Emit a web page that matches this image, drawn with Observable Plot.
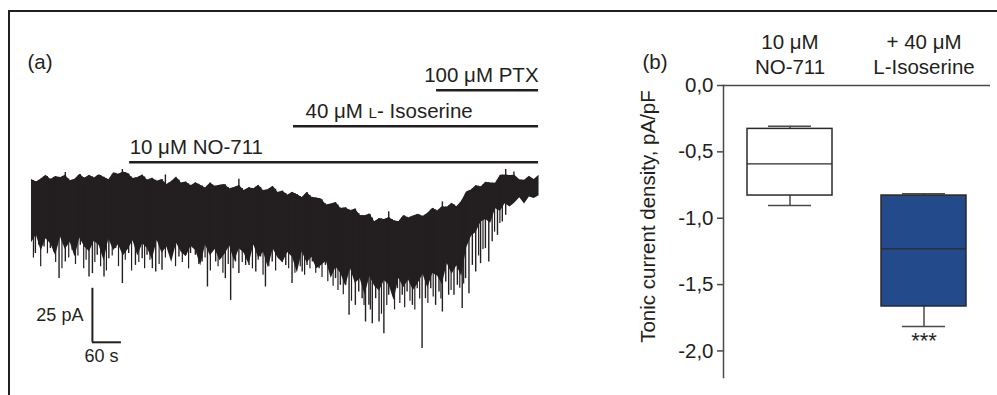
<!DOCTYPE html>
<html><head><meta charset="utf-8">
<script src="https://cdn.jsdelivr.net/npm/d3@7"></script>
<script src="https://cdn.jsdelivr.net/npm/@observablehq/plot@0.6"></script>
<style>
html,body{margin:0;padding:0;background:#fff;}
#fig{position:relative;width:997px;height:395px;overflow:hidden;font-family:"Liberation Sans",Arial,Helvetica,sans-serif;color:#231f20;}
#frame{position:absolute;left:8px;top:10px;right:-20px;bottom:-20px;border-top:2.5px solid #231f20;border-left:2.5px solid #231f20;}
#pa{position:absolute;left:0;top:0;}
#pb{position:absolute;left:560px;top:0;}
svg{overflow:visible;}
</style></head><body>
<div id="fig"><div id="frame"></div><div id="pa"></div><div id="pb"></div></div>
<script>
// ---------- Panel (a): whole-cell trace (time in s, current in pA) ----------
const traceTime = [0, 10, 20, 30, 40, 50, 60, 70, 80, 90, 100, 110, 120, 130, 140, 150, 160, 170, 180, 190,
  200, 210, 220, 230, 240, 250, 260, 270, 280, 290, 300, 310, 320, 330, 340, 350, 360, 370, 380, 390,
  400, 410, 420, 430, 440, 450, 460, 470, 480, 490, 500, 510, 520, 530, 540, 550, 560, 570, 580, 590,
  600, 610, 620, 630, 640, 650, 660, 670, 680, 690, 700, 710, 720, 730, 740, 750, 760, 770, 780, 790,
  800, 810, 820, 830, 840, 850, 860, 870, 880, 890, 900, 910, 920, 930, 940, 950, 960, 970, 980, 990,
  1000, 1010, 1020, 1030, 1040, 1050];
// upper (outward) edge of the noisy holding current
const traceUpper = [0.4, -0.8, 0.6, 2.3, 0.4, 1.8, 1.2, 2.3, -0.2, 0.5, 2.8, 0.9, 2.3, 1.1, 2.6, 1.4, 0.2, 3.5, 2.8, 3.8,
  3.2, 0.8, 1.3, 2.5, 0, 0.9, -0.4, 0.4, -1.9, -0.5, 1.5, -1.3, -0.8, -2.5, -1.1, -2.3, -3.6, -1.2, -2.8, -2.3,
  -1.9, -3.9, -3.3, -2.4, -4.7, -3.4, -3.9, -2.3, -4.8, -4.3, -2.8, -5.6, -5.0, -6.9, -5.5, -6.7, -8.0, -5.7, -7.9, -8.2,
  -8.7, -11.4, -11.0, -10.3, -13.1, -12.7, -14.1, -13.3, -16.3, -16.4, -15.6, -19.2, -17.7, -18.2, -17.2, -18.7, -19.2, -16.3, -17.4, -16.5,
  -15.7, -16.8, -15.2, -12.9, -14.2, -12.2, -12.5, -10.6, -12.3, -9.7, -5.4, -4.5, -2.4, -3.1, -0.9, -1.3, -1.4, 2.3, 2.5, 2.2,
  2.3, 0.3, 0, 1.9, 0.4, 2.3];
// lower (inward) edge of the dense noise band
const traceLower = [-28.9, -25.3, -32.7, -27.1, -29.5, -34.9, -26.2, -32.0, -28.7, -35.5, -26.7, -30.9, -33.1, -28.2, -30.2, -37.2, -27.2, -32.5, -29.8, -35.0,
  -32.0, -28.0, -35.1, -29.4, -31.6, -36.8, -27.8, -33.8, -30.9, -38.0, -29.2, -33.3, -35.4, -30.5, -32.6, -39.7, -29.9, -34.9, -32.0, -37.2,
  -34.3, -30.4, -37.6, -31.7, -33.8, -38.9, -30.0, -36.1, -33.3, -40.5, -31.8, -36.0, -38.2, -33.4, -35.6, -42.9, -33.1, -38.3, -35.6, -41.0,
  -39.5, -37.5, -45.3, -40.2, -43.2, -49.0, -40.9, -47.8, -45.6, -53.1, -44.5, -49.0, -51.2, -46.4, -48.6, -55.7, -45.3, -49.7, -46.2, -51.0,
  -47.8, -43.5, -50.0, -43.2, -44.3, -48.4, -38.5, -43.5, -39.6, -44.5, -31.5, -26.0, -24.0, -19.3, -18.1, -19.9, -13.2, -14.3, -10.9, -12.4,
  -10.5, -8.1, -11.0, -7.7, -8.4, -7.2];

// larger inward synaptic events: time (s) and peak current (pA)
const eventTime = [8, 15, 26, 39, 46, 57, 70, 84, 101, 119, 126, 136, 150, 160, 174, 188, 201, 215, 229, 239, 250, 257, 270, 284, 291, 305, 319, 329, 339, 353, 364, 381, 391, 401, 412, 422, 429, 443, 450, 464, 474, 484, 498, 512, 526, 539, 550, 560, 570, 581, 595, 608, 619, 629, 639, 650, 657, 670, 677, 684, 691, 698, 705, 712, 719, 729, 739, 746, 757, 767, 777, 788, 798, 808, 815, 826, 836, 843, 850, 857, 863, 874, 881, 891, 898, 905, 912, 919, 929, 939, 946, 953, 964, 974, 981];
const eventPeak = [-33.9, -30.1, -30.9, -31.6, -33.2, -45.5, -37.8, -32.4, -30.1, -44.8, -43.2, -34.7, -44.8, -36.3, -31.6, -47.8, -33.9, -39.4, -36.3, -34.7, -40.9, -42.4, -41.7, -33.2, -34.7, -35.5, -34.7, -33.9, -34.7, -37.8, -49.4, -37.8, -36.3, -45.5, -55.6, -37.8, -43.2, -39.4, -39.4, -42.4, -35.5, -49.4, -37.8, -36.3, -39.4, -47.8, -38.6, -42.4, -39.4, -37.8, -40.9, -39.4, -43.2, -45.5, -48.6, -48.6, -62.5, -57.9, -51.7, -54.8, -65.6, -57.9, -66.4, -54.8, -65.6, -71.0, -53.2, -51.7, -50.2, -53.2, -51.7, -57.9, -50.2, -77.9, -54.8, -50.2, -57.9, -51.7, -61.0, -47.1, -53.2, -53.2, -48.6, -59.4, -45.5, -52.5, -39.4, -42.4, -38.6, -31.6, -37.8, -28.5, -25.5, -19.3, -16.2];
// smaller inward events filling the fringe below the band
const minorTime = [4, 19, 33, 50, 63, 77, 91, 96, 108, 113, 131, 143, 155, 167, 180, 194, 207, 222, 234, 245, 264, 277, 298, 312, 325, 346, 359, 370, 386, 396, 407, 417, 436, 457, 469, 479, 491, 505, 519, 532, 545, 556, 565, 576, 588, 601, 613, 624, 634, 645, 662, 688, 701, 724, 735, 751, 762, 772, 783, 793, 803, 820, 831, 847, 868, 886, 894, 925, 934, 958, 969];
const minorPeak = [-36, -40, -34, -38, -41, -36, -39, -35, -41, -37, -38, -40, -42, -35, -40, -37, -42, -38, -41, -37, -39, -36, -40, -38, -41, -39, -36, -42, -40, -43, -39, -41, -38, -41, -37, -44, -40, -42, -38, -41, -43, -40, -44, -41, -43, -45, -47, -49, -51, -53, -56, -58, -60, -62, -58, -60, -57, -59, -56, -60, -55, -57, -54, -55, -51, -50, -48, -35, -32, -24, -20];

// brief upward deflections on the top edge
const upTime = [70, 188, 277, 429, 739, 850, 981, 998];
const upPeak = [3.6, 5.0, 2.5, 0.5, -14.6, -10.0, 5.0, 3.8];

// drug applications
const drugLabel = ["10 μM NO-711", "40 μM L- Isoserine", "100 μM PTX"];
const drugStart = [203, 542, 838];
const drugEnd   = [1049, 1049, 1049];

// calibration bar
const calTime = 126, calCurrent = -75, calDt = 60, calDi = 25;

// ---------- Panel (b): box plot of tonic current density (pA/pF) ----------
const boxCategory = ["10 μM\nNO-711", "+ 40 μM\nL-Isoserine"];
const whiskerLow  = [-0.904, -1.816];
const quart1      = [-0.829, -1.665];
const medians     = [-0.59, -1.231];
const quart3      = [-0.327, -0.829];
const whiskerHigh = [-0.307, -0.816];
const significance = ["", "***"];
const yTicks = [0, -0.5, -1.0, -1.5, -2.0];

const INK = "#231f20";
const FONT = '"Liberation Sans", Arial, Helvetica, sans-serif';

// ---------- build panel (a) ----------
const upperAt = d3.scaleLinear().domain(traceTime).range(traceUpper);
const trace = traceTime.map((t, i) => ({t, hi: traceUpper[i], lo: traceLower[i]}));
const events = eventTime.map((t, i) => ({t, peak: eventPeak[i], base: upperAt(t)}));
const minor = minorTime.map((t, i) => ({t, peak: minorPeak[i], base: upperAt(t)}));
const ups = upTime.map((t, i) => ({t, peak: upPeak[i], base: upperAt(t) - 1}));
const drugs = drugLabel.map((label, i) => ({label, start: drugStart[i], end: drugEnd[i], row: i}));
const rowY = r => 8.3 + r * 16.7;
const cal = [{t: calTime, i: calCurrent}];

const plotA = Plot.plot({
  width: 560, height: 395,
  marginLeft: 31, marginRight: 20, marginTop: 7, marginBottom: 10,
  x: {domain: [0, 1053], range: [31, 540], axis: null},
  y: {domain: [-95, 80], range: [385, 7], axis: null},
  style: {fontFamily: FONT, fontSize: "20.5px", color: INK, background: "transparent"},
  marks: [
    Plot.areaY(trace, {x: "t", y1: "lo", y2: "hi", fill: INK}),
    Plot.ruleX(minor, {x: "t", y1: "peak", y2: "base", stroke: INK, strokeWidth: 1.2}),
    Plot.ruleX(events, {x: "t", y1: "peak", y2: "base", stroke: INK, strokeWidth: 1.4}),
    Plot.ruleX(ups, {x: "t", y1: "base", y2: "peak", stroke: INK, strokeWidth: 1.4}),
    Plot.ruleY(drugs, {y: d => rowY(d.row), x1: "start", x2: "end", stroke: INK, strokeWidth: 2.5}),
    Plot.text(drugs.filter(d => d.row === 0), {x: "start", y: d => rowY(d.row), text: "label", textAnchor: "start", dy: -15, fill: INK}),
    Plot.text(drugs.filter(d => d.row === 1), {x: "start", y: d => rowY(d.row), text: "label", textAnchor: "start", dx: 12, dy: -15, fill: INK}),
    Plot.text(drugs.filter(d => d.row === 2), {x: "end", y: d => rowY(d.row), text: "label", textAnchor: "end", dy: -15, fill: INK}),
    Plot.ruleX(cal, {x: "t", y1: "i", y2: d => d.i + calDi, stroke: INK, strokeWidth: 2}),
    Plot.ruleY(cal, {y: "i", x1: "t", x2: d => d.t + calDt, stroke: INK, strokeWidth: 2}),
    Plot.text(cal, {x: "t", y: d => d.i + calDi / 2, text: () => `${calDi} pA`, textAnchor: "end", dx: -9, fontSize: 18, fill: INK}),
    Plot.text(cal, {x: "t", y: "i", text: () => `${calDt} s`, textAnchor: "start", lineAnchor: "top", dx: -8, dy: 7, fontSize: 18, fill: INK}),
    Plot.text(["(a)"], {frameAnchor: "top-left", textAnchor: "start", dx: -4, dy: 47, fill: INK})
  ]
});
// small-capital L in "L- Isoserine"
plotA.querySelectorAll("text").forEach(el => {
  if (el.textContent === drugLabel[1]) {
    el.textContent = "";
    el.appendChild(document.createTextNode("40 μM "));
    const ts = document.createElementNS("http://www.w3.org/2000/svg", "tspan");
    ts.setAttribute("font-size", "0.74em");
    ts.textContent = "L";
    el.appendChild(ts);
    el.appendChild(document.createTextNode("- Isoserine"));
  }
});
document.getElementById("pa").appendChild(plotA);

// ---------- build panel (b) ----------
const boxes = boxCategory.map((c, i) => ({c, lo: whiskerLow[i], q1: quart1[i], med: medians[i], q3: quart3[i], hi: whiskerHigh[i], sig: significance[i], idx: i}));
const fmt = d => d.toFixed(1).replace(".", ",");
const GRAY = "#4a4a4a";

const plotB = Plot.plot({
  width: 437, height: 395,
  marginLeft: 163, marginRight: 7, marginTop: 85, marginBottom: 18,
  x: {domain: boxCategory, paddingInner: 0.366, paddingOuter: 0.179, axis: null},
  y: {domain: [-2.2, 0], axis: null},
  color: {type: "identity"},
  style: {fontFamily: FONT, fontSize: "20.5px", color: INK, background: "transparent"},
  marks: [
    Plot.frame({anchor: "left", stroke: GRAY, strokeWidth: 1.5}),
    Plot.ruleY([0], {stroke: GRAY, strokeWidth: 1.5}),
    Plot.axisY({ticks: yTicks, tickFormat: fmt, tickSize: 6, tickPadding: 4, label: null, stroke: GRAY, strokeWidth: 1.5, fill: INK}),
    Plot.axisX({anchor: "top", tickSize: 0, tickPadding: 12, label: null, lineHeight: 1.22, fill: INK}),
    Plot.ruleX(boxes, {x: "c", y1: "lo", y2: "q1", stroke: GRAY, strokeWidth: 1.5}),
    Plot.ruleX(boxes, {x: "c", y1: "q3", y2: "hi", stroke: GRAY, strokeWidth: 1.5}),
    Plot.tickY(boxes, {x: "c", y: "lo", insetLeft: 21, insetRight: 21, stroke: GRAY, strokeWidth: 1.5}),
    Plot.tickY(boxes, {x: "c", y: "hi", insetLeft: 21, insetRight: 21, stroke: GRAY, strokeWidth: 1.5}),
    Plot.barY(boxes, {x: "c", y1: "q1", y2: "q3", fill: d => d.idx === 0 ? "#ffffff" : "#234a8b", stroke: "#2a2a2a", strokeWidth: 1.5}),
    Plot.tickY(boxes, {x: "c", y: "med", stroke: "#2a2a2a", strokeWidth: 1.3}),
    Plot.text(boxes, {x: "c", y: "lo", text: "sig", lineAnchor: "top", dy: 6, fontSize: 22, fill: INK}),
    Plot.text(["Tonic current density, pA/pF"], {frameAnchor: "left", textAnchor: "middle", rotate: -90, dx: -75, dy: -15, fill: INK}),
    Plot.text(["(b)"], {frameAnchor: "top-left", textAnchor: "start", dx: -81, dy: -31, fill: INK})
  ]
});
document.getElementById("pb").appendChild(plotB);
</script>
</body></html>
